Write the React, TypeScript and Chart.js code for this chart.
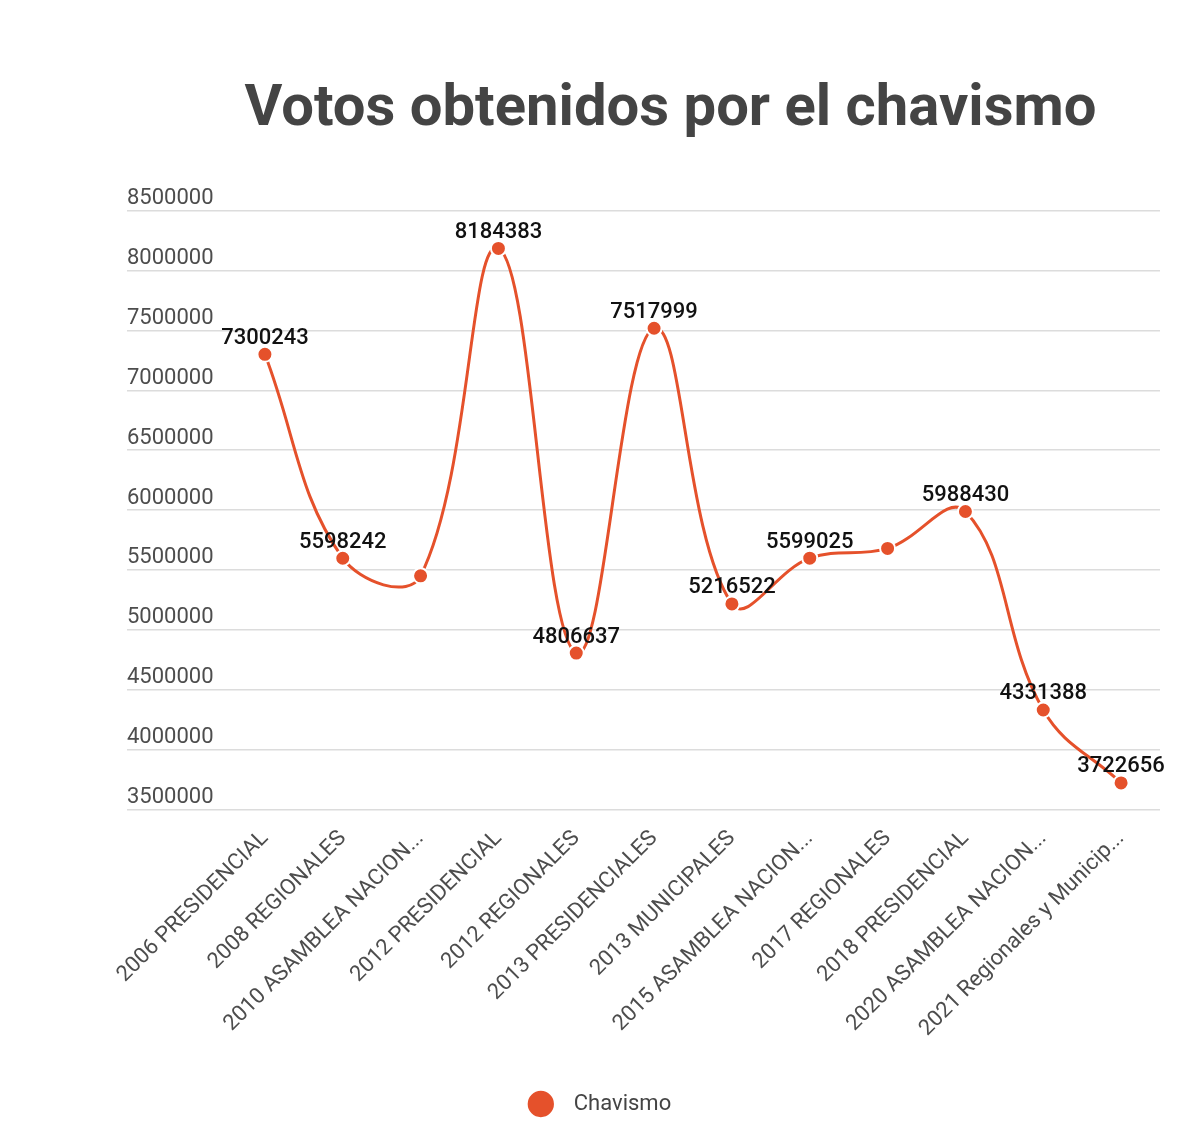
import React, { useEffect, useRef } from "react";
import { Chart, registerables } from "chart.js";

Chart.register(...registerables);

const TITLE = "Votos obtenidos por el chavismo";
const SERIES_NAME = "Chavismo";

const categories = [
  "2006 PRESIDENCIAL",
  "2008 REGIONALES",
  "2010 ASAMBLEA NACION...",
  "2012 PRESIDENCIAL",
  "2012 REGIONALES",
  "2013 PRESIDENCIALES",
  "2013 MUNICIPALES",
  "2015 ASAMBLEA NACION...",
  "2017 REGIONALES",
  "2018 PRESIDENCIAL",
  "2020 ASAMBLEA NACION...",
  "2021 Regionales y Municip...",
];

const votes = [
  7300243, 5598242, 5451419, 8184383, 4806637, 7517999, 5216522, 5599025,
  5680000, 5988430, 4331388, 3722656,
];

const showValueLabel = [
  true, true, false, true, true, true, true, true, false, true, true, true,
];

const yMin = 3500000;
const yMax = 8500000;
const yStep = 500000;

const LINE_COLOR = "#e5512b";
const GRID_COLOR = "#dcdcdc";
const AXIS_TEXT = "#4d4d4d";

const valueLabelsPlugin = {
  id: "valueLabels",
  afterDatasetsDraw(chart: any) {
    const meta = chart.getDatasetMeta(0);
    const ctx = chart.ctx;
    ctx.save();
    ctx.font = "500 22px Roboto";
    ctx.fillStyle = "#111111";
    ctx.textAlign = "center";
    ctx.textBaseline = "middle";
    meta.data.forEach((pt: any, i: number) => {
      if (!showValueLabel[i]) return;
      ctx.fillText(String(votes[i]), pt.x, pt.y - 16);
    });
    ctx.restore();
  },
};

const shiftBlocksPlugin = {
  id: "shiftBlocks",
  afterLayout(chart: any) {
    const t = chart.titleBlock;
    if (t) {
      t.left += 27;
      t.right += 27;
    }
    const l = chart.legend;
    if (l) {
      l.left -= 43;
      l.right -= 43;
    }
  },
};

export default function App() {
  const canvasRef = useRef<HTMLCanvasElement | null>(null);

  useEffect(() => {
    if (!canvasRef.current) return;
    Chart.defaults.font.family = "Roboto";
    const chart = new Chart(canvasRef.current, {
      type: "line",
      data: {
        labels: categories,
        datasets: [
          {
            label: SERIES_NAME,
            data: votes,
            borderColor: LINE_COLOR,
            backgroundColor: LINE_COLOR,
            borderWidth: 3,
            tension: 0.4,
            pointRadius: 7.5,
            pointBackgroundColor: LINE_COLOR,
            pointBorderColor: "#ffffff",
            pointBorderWidth: 2,
            fill: false,
          },
        ],
      },
      options: {
        animation: false,
        responsive: true,
        maintainAspectRatio: false,
        layout: { padding: { top: 40, left: 119, right: 32, bottom: 15 } },
        plugins: {
          title: {
            display: true,
            text: TITLE,
            color: "#444444",
            font: { size: 58, weight: "bold" },
            padding: { top: 28, bottom: 65 },
          },
          legend: {
            display: true,
            position: "bottom",
            labels: {
              usePointStyle: true,
              pointStyle: "circle",
              boxHeight: 20,
              color: "#444444",
              font: { size: 22 },
              padding: 12,
              generateLabels(chart: any) {
                const items = Chart.defaults.plugins.legend.labels.generateLabels(chart);
                return items.map((it: any) => ({ ...it, text: "  " + it.text }));
              },
            },
          },
          tooltip: { enabled: false },
        },
        scales: {
          x: {
            offset: true,
            grid: { display: false },
            border: { display: false },
            ticks: {
              autoSkip: false,
              maxRotation: 45,
              minRotation: 45,
              color: AXIS_TEXT,
              font: { size: 22 },
              padding: 8,
            },
            afterFit(scale: any) {
              scale.height += 31;
            },
          },
          y: {
            min: yMin,
            max: yMax,
            border: { display: false },
            grid: {
              color: GRID_COLOR,
              lineWidth: 1.5,
              drawTicks: true,
              tickLength: 99,
            },
            ticks: {
              stepSize: yStep,
              crossAlign: "far",
              labelOffset: -12,
              color: AXIS_TEXT,
              font: { size: 22 },
              padding: 0,
              callback: (v: any) => String(v),
            },
            afterFit(scale: any) {
              scale.width = 99;
            },
          },
        },
      },
      plugins: [valueLabelsPlugin, shiftBlocksPlugin],
    });
    return () => chart.destroy();
  }, []);

  return (
    <div style={{ width: 1184, height: 1132, position: "relative" }}>
      <canvas ref={canvasRef} />
    </div>
  );
}
